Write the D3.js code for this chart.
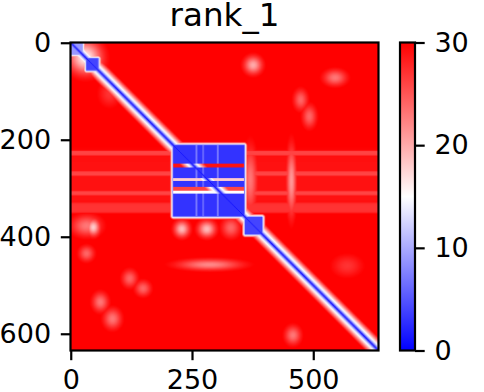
<!DOCTYPE html>
<html>
<head>
<meta charset="utf-8">
<script src="https://cdn.jsdelivr.net/npm/d3@7"></script>
<style>
	body { margin: 0; background: #fff; }
	svg { display: block; font-family: "DejaVu Sans", sans-serif; }
</style>
</head>
<body>
<div id="chart"></div>
<script>
var n = 635,
	vmin = 0,
	vmax = 30,
	baseValue = 31;

var title = "rank_1";
var xTicks = [0, 250, 500];
var yTicks = [0, 200, 400, 600];
var cbTicks = [0, 10, 20, 30];

// [start, end, value] square blocks of low error along the diagonal
var domains = [
	[0, 24, 9],
	[33, 56, 4],
	[212, 357, 3],
	[360, 394, 4]
];

// rows / columns inside the big block with higher values
var rowGaps = [
	[250, 256, 30],
	[280, 284, 18],
	[298, 304, 26],
	[305, 310, 15]
];
var colGaps = [
	[258, 261, 7],
	[272, 274, 6],
	[302, 305, 7]
];

// lighter horizontal bands across the whole width [start, end, value]
var rowBands = [
	[212, 357, 29],
	[224, 231, 26],
	[266, 273, 26],
	[307, 313, 26],
	[330, 350, 27]
];

// whitish patches [row0, row1, col0, col1, value]
var patches = [
	[0, 60, 0, 60, 16],
	[360, 395, 5, 60, 23],
	[368, 393, 38, 55, 18],
	[372, 396, 218, 240, 19],
	[372, 396, 267, 294, 19],
	[365, 398, 315, 345, 24],
	[215, 355, 450, 460, 21],
	[215, 350, 360, 380, 23],
	[32, 60, 362, 390, 20],
	[60, 84, 525, 565, 23],
	[100, 135, 464, 484, 24],
	[132, 172, 482, 502, 24],
	[472, 500, 110, 133, 24],
	[495, 518, 137, 161, 24],
	[519, 550, 49, 73, 23],
	[552, 586, 72, 100, 23],
	[451, 464, 220, 352, 22],
	[588, 618, 446, 470, 23],
	[423, 446, 21, 44, 24],
	[80, 130, 60, 100, 27],
	[440, 480, 540, 600, 27]
];

var plotLeft = 70.5, plotTop = 42.5, size = 308;
var cbLeft = 400, cbWidth = 15;
var fontSize = 27, lw = 2.2, tickLen = 9.7, pad = 9.7;

var svg = d3.select("#chart").append("svg")
	.attr("width", 484)
	.attr("height", 392);

var x = d3.scaleLinear().domain([-0.5, n - 0.5]).range([plotLeft, plotLeft + size]);
var y = d3.scaleLinear().domain([-0.5, n - 0.5]).range([plotTop, plotTop + size]);
var color = d3.scaleLinear()
	.domain([vmin, (vmin + vmax) / 2, vmax])
	.range(["#0000ff", "#ffffff", "#ff0000"])
	.clamp(true);
var cb = d3.scaleLinear().domain([vmin, vmax]).range([plotTop + size, plotTop]);

function soft(val, e, width) {
	if (e <= 0) return val;
	return val + (baseValue - val) * Math.min(1, e / width);
}

function rectDist(i, j, r0, r1, c0, c1) {
	var dr = Math.max(r0 - i, 0, i - r1),
		dc = Math.max(c0 - j, 0, j - c1);
	return Math.sqrt(dr * dr + dc * dc);
}

function inRange(k, list) {
	var result = null;
	list.forEach(function(g) {
		if (k >= g[0] && k <= g[1]) result = g[2];
	});
	return result;
}

function cellValue(i, j) {
	var v = baseValue;

	rowBands.forEach(function(b) {
		var h = (b[1] - b[0]) / 2 + 2,
			t = (i - (b[0] + b[1]) / 2) / h,
			w = Math.exp(-Math.pow(t * t, 3));
		v = Math.min(v, baseValue - (baseValue - b[2]) * w);
	});

	patches.forEach(function(p) {
		var hr = (p[1] - p[0]) / 2 + 6,
			hc = (p[3] - p[2]) / 2 + 6,
			tr = (i - (p[0] + p[1]) / 2) / hr,
			tc = (j - (p[2] + p[3]) / 2) / hc,
			w = Math.exp(-1.3 * (tr * tr + tc * tc));
		v = Math.min(v, baseValue - (baseValue - p[4]) * w);
	});

	domains.forEach(function(d, index) {
		var val = d[2];
		var e = rectDist(i, j, d[0], d[1], d[0], d[1]);
		if (index === 2 && e <= 0) {
			var rg = inRange(i, rowGaps),
				cg = inRange(j, colGaps);
			if (rg !== null) val = Math.max(val, rg);
			if (cg !== null) val = Math.max(val, cg);
		}
		v = Math.min(v, soft(val, e, 8));
	});

	var diag = Math.abs(i - j);
	var dv = diag <= 6 ? 1 + 1.7 * diag : 11.2 + 0.9 * (diag - 6);
	v = Math.min(v, dv);
	return v;
}

// colour lookup
var lut = [];
for (var k = 0; k <= 300; k++) {
	lut.push(d3.rgb(color(vmin + (vmax - vmin) * k / 300)));
}

var canvas = document.createElement("canvas");
canvas.width = n;
canvas.height = n;
var ctx = canvas.getContext("2d");
var img = ctx.createImageData(n, n);
for (var i = 0; i < n; i++) {
	for (var j = 0; j < n; j++) {
		var v = cellValue(i, j);
		var c = lut[Math.round(Math.max(0, Math.min(1, (v - vmin) / (vmax - vmin))) * 300)];
		var o = (i * n + j) * 4;
		img.data[o] = c.r;
		img.data[o + 1] = c.g;
		img.data[o + 2] = c.b;
		img.data[o + 3] = 255;
	}
}
ctx.putImageData(img, 0, 0);

svg.append("image")
	.attr("x", x(-0.5))
	.attr("y", y(-0.5))
	.attr("width", x(n - 0.5) - x(-0.5))
	.attr("height", y(n - 0.5) - y(-0.5))
	.attr("preserveAspectRatio", "none")
	.attr("href", canvas.toDataURL());

svg.append("rect")
	.attr("x", plotLeft)
	.attr("y", plotTop)
	.attr("width", size)
	.attr("height", size)
	.attr("fill", "none")
	.attr("stroke", "black")
	.attr("stroke-width", lw);

function styleAxis(g) {
	g.select(".domain").remove();
	g.selectAll(".tick line").attr("stroke-width", lw);
	g.selectAll(".tick text").attr("font-size", fontSize).attr("fill", "black")
		.attr("font-family", "DejaVu Sans");
}

svg.append("g")
	.attr("transform", "translate(0," + (plotTop + size) + ")")
	.call(d3.axisBottom(x).tickValues(xTicks).tickSize(tickLen).tickPadding(pad))
	.call(styleAxis);

svg.append("g")
	.attr("transform", "translate(" + plotLeft + ",0)")
	.call(d3.axisLeft(y).tickValues(yTicks).tickSize(tickLen).tickPadding(pad))
	.call(styleAxis);

svg.append("text")
	.attr("x", plotLeft + size / 2)
	.attr("y", 26)
	.attr("text-anchor", "middle")
	.attr("font-size", 32.6)
	.text(title);

// colorbar
var grad = svg.append("defs").append("linearGradient")
	.attr("id", "cbgrad")
	.attr("x1", 0).attr("y1", 1).attr("x2", 0).attr("y2", 0);
d3.range(0, 11).forEach(function(s) {
	grad.append("stop")
		.attr("offset", s / 10)
		.attr("stop-color", color(vmin + (vmax - vmin) * s / 10));
});

svg.append("rect")
	.attr("x", cbLeft)
	.attr("y", plotTop)
	.attr("width", cbWidth)
	.attr("height", size)
	.attr("fill", "url(#cbgrad)")
	.attr("stroke", "black")
	.attr("stroke-width", lw);

svg.append("g")
	.attr("transform", "translate(" + (cbLeft + cbWidth) + ",0)")
	.call(d3.axisRight(cb).tickValues(cbTicks).tickSize(tickLen).tickPadding(pad))
	.call(styleAxis);
</script>
</body>
</html>
